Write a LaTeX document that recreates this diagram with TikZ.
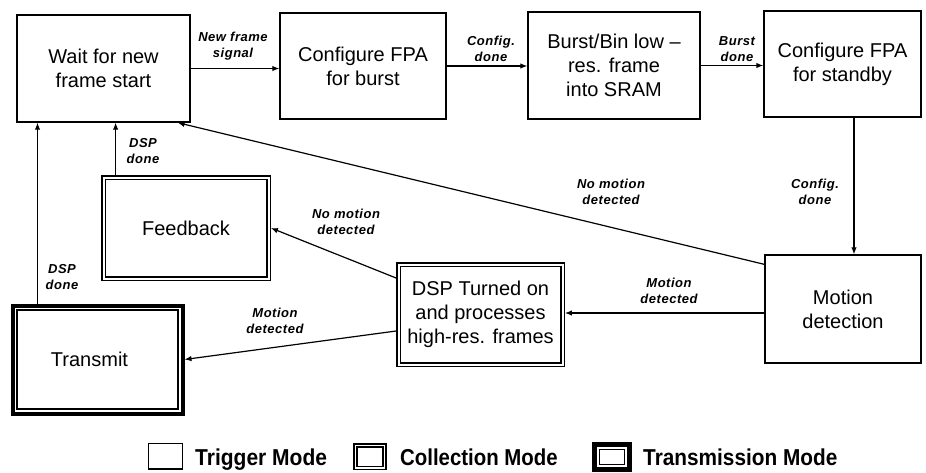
\documentclass[tikz,border=0pt]{standalone}
\usepackage{fontspec}
\setmainfont{Liberation Sans}
\newfontfamily\lblfont[LetterSpace=4]{Liberation Sans}
\usetikzlibrary{arrows.meta,calc}
\begin{document}
\begin{tikzpicture}[x=1pt,y=-1pt,
  every node/.style={inner sep=0pt},
  boxtext/.style={font=\fontsize{20}{24}\selectfont, align=center},
  trig/.style={boxtext, draw, line width=1.3pt},
  collect/.style={boxtext, draw, line width=1.4pt, double distance=2pt, outer sep=2.4pt},
  transm/.style={boxtext, draw, line width=1.3pt, outer sep=6.5pt},
  lbl/.style={font=\lblfont\fontsize{13}{15.5}\selectfont\bfseries\itshape, align=center},
  legtext/.style={font=\fontsize{20}{24}\selectfont\bfseries, anchor=base west},
  arr/.style={line width=1.2pt, -{Latex[length=7pt,width=5.5pt]}}
]
\useasboundingbox[fill=white] (0,0) rectangle (926,472);

% trigger-mode states
\node[trig, minimum width=173pt, minimum height=107pt] (wait)  at (103.5,68.5) {Wait for new\\frame start};
\node[trig, minimum width=166pt, minimum height=106pt] (cfgb)  at (363,66)     {Configure FPA\\for burst};
\node[trig, minimum width=172pt, minimum height=107pt] (burst) at (614,65.5)   {Burst/Bin low --\\res. frame\\into SRAM};
\node[trig, minimum width=157pt, minimum height=106pt] (stdby) at (842.5,64)   {Configure FPA\\for standby};
\node[trig, minimum width=156pt, minimum height=108pt] (motion) at (843,309)   {Motion\\detection};

% collection-mode states
\node[collect, minimum width=164pt, minimum height=100pt] (dsp) at (480.5,314.5) {DSP Turned on\\and processes\\high-res. frames};
\node[collect, minimum width=165pt, minimum height=101pt] (feedback) at (186,228) {Feedback};

% transmission-mode state
\node[transm, minimum width=161pt, minimum height=99pt] (tx) at (97.5,359.5) {\hspace*{-16pt}Transmit};
\draw[line width=4pt] ([shift={(2pt,-2pt)}]tx.north west) rectangle ([shift={(-2pt,2pt)}]tx.south east);

% top row
\draw[arr] (wait.east) -- (cfgb.west |- wait.east);
\draw[arr] (cfgb.east) -- (burst.west |- cfgb.east);
\draw[arr] (burst.east) -- (stdby.west |- burst.east);
\draw[arr] ([xshift=11.5pt]stdby.south) coordinate (s0) -- (s0 |- motion.north);

% from motion detection
\draw[arr] ([yshift=-10pt]motion.north west) -- ([xshift=-13pt]wait.south east);
\draw[arr] ([yshift=-4pt]motion.west) coordinate (m0) -- (m0 -| dsp.east);

% from DSP
\draw[arr] ([yshift=36.5pt]dsp.west) -- (feedback.east);
\draw[arr] ([yshift=-16.5pt]dsp.west) -- (tx.east);

% back to waiting
\draw[arr] ([xshift=14.5pt]feedback.north west) coordinate (f0) -- (f0 |- wait.south);
\draw[arr] ([xshift=27pt]tx.north west) coordinate (t0) -- (t0 |- wait.south);

% transition labels
\node[lbl] (l1) at (233,46)  {New frame\\signal};
\node[lbl] (l2) at (491,49)  {Config.\\done};
\node[lbl] (l3) at (737,49)  {Burst\\done};
\node[lbl] (l4) at (815,192) {Config.\\done};
\node[lbl] (l5) at (611,192) {No motion\\detected};
\node[lbl] (l6) at (669,291) {Motion\\detected};
\node[lbl] (l7) at (346,222) {No motion\\detected};
\node[lbl] (l8) at (275,321) {Motion\\detected};
\node[lbl] (l9) at (143,151) {DSP\\done};
\node[lbl] (l10) at (62,277) {DSP\\done};

% legend
\draw[line width=1.3pt] (148.5,443.5) rectangle (182.5,469);
\node[legtext] (k1) at (195,465) {\scalebox{1.05}[1.15]{Trigger Mode}};
\draw[line width=1.4pt, double distance=1.8pt] (355.5,445.5) rectangle (384.5,468);
\node[legtext] (k2) at (400,465) {\scalebox{1.02}[1.15]{Collection Mode}};
\draw[line width=4.5pt] (594.5,444.5) rectangle (629.5,469.5);
\draw[line width=1.2pt] (599.5,449.5) rectangle (624.5,464.5);
\node[legtext] (k3) at (643,465) {\scalebox{1.04}[1.15]{Transmission Mode}};
\end{tikzpicture}
\end{document}
